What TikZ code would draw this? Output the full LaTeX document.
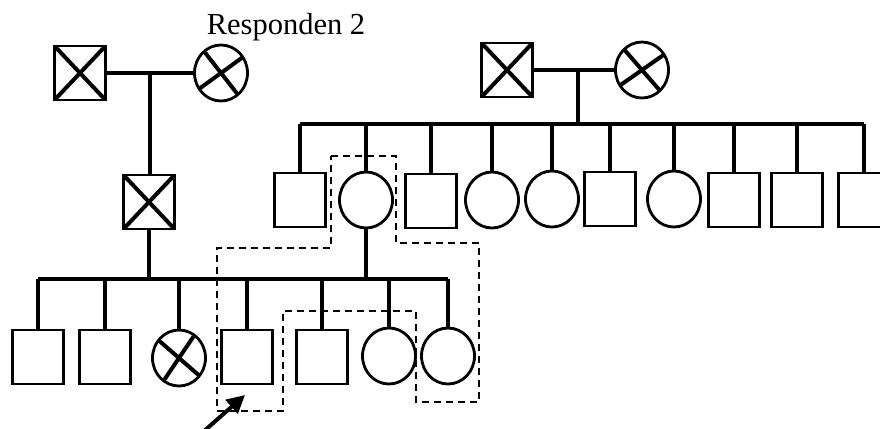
\documentclass[tikz,border=0pt]{standalone}
\usepackage{fontspec}
\setmainfont{Liberation Serif}
\usetikzlibrary{shapes.geometric,arrows.meta}

\tikzset{
  male/.style={draw,rectangle,line width=2.8pt,minimum width=51pt,minimum height=54pt,inner sep=0pt},
  female/.style={draw,ellipse,line width=2.8pt,minimum width=53pt,minimum height=56pt,inner sep=0pt},
  crossline/.style={line width=4pt},
  affectedm/.style={male,path picture={
      \draw[crossline] (path picture bounding box.north west) -- (path picture bounding box.south east)
        (path picture bounding box.north east) -- (path picture bounding box.south west);}},
  affectedf/.style 2 args={female,path picture={
      \draw[crossline,shift={(path picture bounding box.center)}] (#1:26) -- (#1+180:26) (#2:26) -- (#2+180:26);}},
  link/.style={line width=4pt},
  proband/.style={line width=2pt,dash pattern=on 7pt off 5pt},
}

\begin{document}
\begin{tikzpicture}[x=1pt,y=-1pt]
\useasboundingbox (0,0) rectangle (880,428);

% grandparents, left
\node[affectedm] (gf1) at (80,73) {};
\node[affectedf={52}{-36}] (gm1) at (221,73) {};
\node[anchor=base,font=\fontsize{30.5}{36}\selectfont] (resp) at (286,35) {Responden 2};
\draw[link] (gf1) -- (gm1) coordinate[pos=0.5] (u1);

% grandparents, right
\node[affectedm] (gf2) at (507,70) {};
\node[affectedf={49}{-35}] (gm2) at (642,70) {};
\draw[link] (gf2) -- (gm2) coordinate[pos=0.55] (u2);

% parents and their siblings
\node[affectedm] (fa) at (149,202) {};
\node[male] (r1) at (300,200) {};
\node[female] (mo) at (366,200) {};
\node[male] (r3) at (431,201) {};
\node[female] (r4) at (492,200) {};
\node[female] (r5) at (552,199) {};
\node[male] (r6) at (610,199) {};
\node[female] (r7) at (674,199) {};
\node[male] (r8) at (734,200) {};
\node[male] (r9) at (797,200) {};
\node[male] (r10) at (864,200) {};

\draw[link] (u1) -- (u1 |- fa.north);
\coordinate (s2) at (0,124);
\draw[link] (u2) -- (u2 |- s2);
\draw[link] (r1.north |- s2) -- (r10.north |- s2);
\foreach \r in {r1,mo,r3,r4,r5,r6,r7,r8,r9,r10}
  \draw[link] (\r.north |- s2) -- (\r);

% children
\node[male] (c1) at (38,357) {};
\node[male] (c2) at (105,357) {};
\node[affectedf={41}{-56}] (c3) at (179,358) {};
\node[male] (c4) at (247,357) {};
\node[male] (c5) at (322,357) {};
\node[female] (c6) at (389,356) {};
\node[female] (c7) at (448,356) {};

\coordinate (s1) at (0,279);
\draw[link] (c1.north |- s1) -- (c7.north |- s1);
\draw[link] (fa) -- (fa |- s1);
\draw[link] (mo) -- (mo |- s1);
\foreach \c in {c1,c2,c3,c4,c5,c6,c7}
  \draw[link] (\c.north |- s1) -- (\c);

% household outline
\draw[proband] (331,156) -- (396,156) -- (396,243) -- (479,243) -- (479,402) -- (416,402)
  -- (416,311) -- (283,311) -- (283,411) -- (217,411) -- (217,248) -- (331,248) -- cycle;

% pointer to the proband
\coordinate (tail) at (203,432);
\coordinate (tip) at (245,395);
\draw[link,-{Triangle[length=18pt,width=18pt]}] (tail) -- (tip);
\end{tikzpicture}
\end{document}
